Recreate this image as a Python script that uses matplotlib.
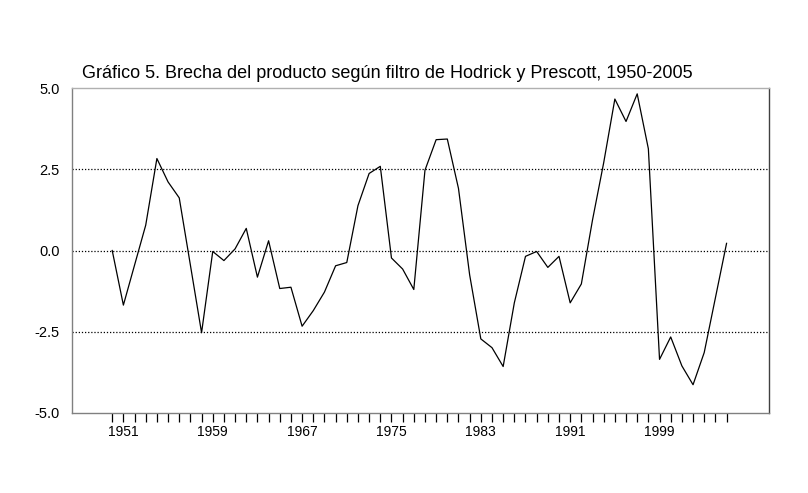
import matplotlib
matplotlib.use("Agg")
import matplotlib.pyplot as plt
from matplotlib.ticker import FixedLocator

plt.rcParams['font.family'] = ['Liberation Sans', 'DejaVu Sans']

# brecha del producto (%), 1950-2005
anios = list(range(1950, 2006))
brecha = [0.00, -1.68, -0.45, 0.78, 2.83, 2.11, 1.62, -0.45, -2.53, -0.03,
          -0.31, 0.05, 0.68, -0.82, 0.30, -1.17, -1.13, -2.33, -1.85, -1.28,
          -0.47, -0.37, 1.38, 2.37, 2.59, -0.23, -0.57, -1.20, 2.47, 3.41,
          3.43, 1.91, -0.75, -2.72, -2.99, -3.57, -1.61, -0.18, -0.03, -0.52,
          -0.18, -1.61, -1.03, 0.94, 2.70, 4.66, 3.97, 4.82, 3.13, -3.35,
          -2.66, -3.55, -4.13, -3.14, -1.46, 0.22]
etiquetas_x = [1951, 1959, 1967, 1975, 1983, 1991, 1999]
valores_y = [-5.0, -2.5, 0.0, 2.5, 5.0]

fig = plt.figure(figsize=(8.08, 4.93), dpi=100)
ax = fig.add_axes([72/808, 1-413/493, (769-72)/808, (413-88)/493])

# lineas de referencia punteadas
for v in [-2.5, 0.0, 2.5]:
    ax.axhline(v, color='black', linestyle=(0, (1, 1.5)), linewidth=0.9, zorder=1)

ax.plot(anios, brecha, color='black', linewidth=0.9, zorder=2)

ax.set_xlim(1946.4, 2008.8)
ax.set_ylim(-5, 5)
ax.set_yticks(valores_y)
ax.set_yticklabels([f"{v:.1f}" for v in valores_y], fontsize=10.5)
ax.tick_params(axis='y', length=0, pad=9)

ax.xaxis.set_major_locator(FixedLocator(etiquetas_x))
ax.xaxis.set_minor_locator(FixedLocator(anios))
ax.set_xticklabels([str(a) for a in etiquetas_x], fontsize=10)
ax.tick_params(axis='x', which='both', direction='out', length=6.5,
               width=0.9, color='black', pad=2.5)

ax.spines['left'].set_color('#808080')
ax.spines['bottom'].set_color('#808080')
ax.spines['top'].set_color('#b0b0b0')
ax.spines['right'].set_color('#404040')
for s in ax.spines.values():
    s.set_linewidth(1.0)

fig.text(82/808, 1-74/493,
         "Gráfico 5. Brecha del producto según filtro de Hodrick y Prescott, 1950-2005",
         fontsize=13, va='center', ha='left')

fig.savefig("out.png", dpi=100)
